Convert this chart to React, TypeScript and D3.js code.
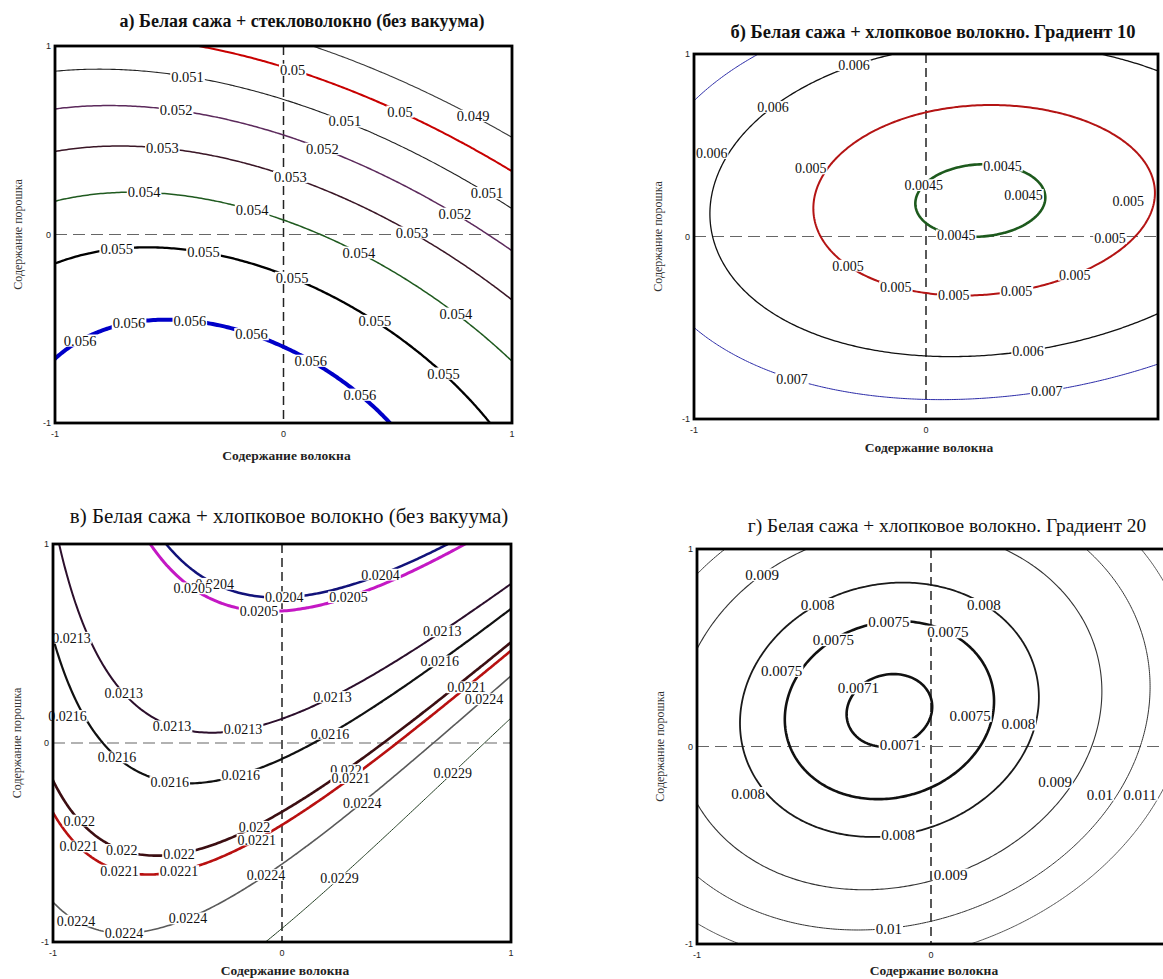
import React from 'react';
import * as d3 from 'd3';

type Sample = [number, number, number]; // fibre, powder, level
type Label = [number, number, number]; // level, fibre, powder

// ---------------- Panel а ----------------
const titleA = 'а) Белая сажа + стекловолокно (без вакуума)';
const levelsA = [0.049, 0.05, 0.051, 0.052, 0.053, 0.054, 0.055, 0.056];
const samplesA: Sample[] = [
  [-1, -0.666, 0.056], [-0.872, -0.546, 0.056], [-0.546, -0.464, 0.056], [0, -0.59, 0.056], [0.344, -0.842, 0.056], [0.476, -1, 0.056],
  [-1, -0.138, 0.055], [-0.62, -0.077, 0.055], [0, -0.203, 0.055], [0.381, -0.484, 0.055], [0.735, -0.779, 0.055], [0.89, -1, 0.055],
  [-1, 0.184, 0.054], [-0.69, 0.22, 0.054], [0, 0.084, 0.054], [0.234, 0, 0.054], [0.794, -0.475, 0.054], [1, -0.67, 0.054],
  [-1, 0.438, 0.053], [-0.73, 0.46, 0.053], [0, 0.305, 0.053], [0.56, 0, 0.053], [1, -0.32, 0.053],
  [-1, 0.667, 0.052], [0, 0.537, 0.052], [0.234, 0.43, 0.052], [0.742, 0.089, 0.052], [1, -0.056, 0.052],
  [-1, 0.862, 0.051], [0, 0.72, 0.051], [0.322, 0.573, 0.051], [0.885, 0.2, 0.051], [1, 0.146, 0.051],
  [-0.4, 1, 0.05], [-0.025, 0.908, 0.05], [0.469, 0.653, 0.05], [1, 0.37, 0.05],
  [0.17, 1, 0.049], [0.826, 0.61, 0.049], [1, 0.5, 0.049],
];
const labelsA: Label[] = [
  [0.05, 0.035, 0.863], [0.05, 0.506, 0.639], [0.049, 0.826, 0.61],
  [0.051, -0.422, 0.818], [0.051, 0.263, 0.582], [0.051, 0.875, 0.188],
  [0.052, -0.474, 0.635], [0.052, 0.16, 0.438], [0.052, 0.742, 0.089],
  [0.053, -0.533, 0.444], [0.053, 0.027, 0.277], [0.053, 0.55, -0.018],
  [0.054, -0.614, 0.209], [0.054, -0.142, 0.111], [0.054, 0.315, -0.12], [0.054, 0.727, -0.462],
  [0.055, -0.732, -0.077], [0.055, -0.349, -0.117], [0.055, 0.027, -0.251], [0.055, 0.381, -0.484], [0.055, 0.661, -0.785],
  [0.056, -0.904, -0.528], [0.056, -0.676, -0.462], [0.056, -0.408, -0.475], [0.056, -0.147, -0.555], [0.056, 0.101, -0.699], [0.056, 0.307, -0.886],
];
const colorsA = ['#3a3a3a', '#c80000', '#222222', '#5c2a5c', '#3a1626', '#1f5a1f', '#000000', '#0000c8'];
const widthsA = [1.1, 2, 1.1, 1.5, 1.5, 1.5, 2.3, 4];

// ---------------- Panel б ----------------
const titleB = 'б) Белая сажа + хлопковое волокно. Градиент 10';
const levelsB = [0.0045, 0.005, 0.006, 0.007];
const samplesB: Sample[] = [
  [-0.04, 0.18, 0.0045], [0.516, 0.22, 0.0045], [0.2, 0.4, 0.0045], [0.27, 0.0, 0.0045], [0.418, 0.357, 0.0045],
  [-0.477, 0.165, 0.005], [0.953, 0.19, 0.005], [0.289, 0.72, 0.005], [0.131, -0.325, 0.005], [0, 0.677, 0.005],
  [0.92, -0.09, 0.005], [-0.286, -0.209, 0.005], [0.705, -0.155, 0.005], [-0.134, -0.285, 0.005], [0.391, -0.27, 0.005],
  [-0.932, 0.13, 0.006], [-0.14, 1, 0.006], [0.78, 1, 0.006], [-0.615, 0.753, 0.006], [-0.852, 0.479, 0.006],
  [0.06, -0.657, 0.006], [1, 0.905, 0.006], [1, -0.41, 0.006], [0.49, -0.62, 0.006],
  [-0.7, 1, 0.007], [-1, 0.75, 0.007], [-1, -0.483, 0.007], [0.06, -0.894, 0.007], [1, -0.69, 0.007],
  [-0.588, -0.785, 0.007], [0.62, -0.827, 0.007],
];
const labelsB: Label[] = [
  [0.006, -0.32, 0.963], [0.006, -0.687, 0.743], [0.006, -0.924, 0.457],
  [0.005, -0.497, 0.373], [0.0045, -0.052, 0.336], [0.0045, 0.326, 0.378], [0.0045, 0.42, 0.228], [0.0045, 0.132, 0.007],
  [0.005, 0.872, 0.195], [0.005, 0.793, -0.009], [0.005, 0.628, -0.161], [0.005, -0.349, -0.188],
  [0.005, -0.134, -0.285], [0.005, 0.122, -0.32], [0.005, 0.391, -0.27],
  [0.006, 0.441, -0.614], [0.007, -0.576, -0.787], [0.007, 0.52, -0.837],
];
const colorsB = ['#1d5a1d', '#b41414', '#111111', '#2b2ba8'];
const widthsB = [2.6, 2, 1.3, 1];

// ---------------- Panel в ----------------
const titleC = 'в) Белая сажа + хлопковое волокно (без вакуума)';
const levelsC = [0.0204, 0.0205, 0.0213, 0.0216, 0.022, 0.0221, 0.0224, 0.0229];
const samplesC: Sample[] = [
  [-0.495, 1, 0.0204], [-0.082, 0.733, 0.0204], [0.507, 0.873, 0.0204], [0.721, 1, 0.0204],
  [-0.568, 1, 0.0205], [-0.008, 0.653, 0.0205], [0.39, 0.777, 0.0205], [0.795, 1, 0.0205],
  [-0.988, 1, 0.0213], [-0.834, 0.526, 0.0213], [-0.642, 0.204, 0.0213], [-0.288, 0.051, 0.0213],
  [-0.008, 0.11, 0.0213], [0.242, 0.22, 0.0213], [0.773, 0.636, 0.0213], [1, 0.797, 0.0213],
  [-1, 0.492, 0.0216], [-0.863, 0.136, 0.0216], [-0.73, -0.068, 0.0216], [-0.406, -0.195, 0.0216],
  [-0.097, -0.127, 0.0216], [0.316, 0.102, 0.0216], [0.758, 0.458, 0.0216], [1, 0.67, 0.0216],
  [-1, -0.169, 0.022], [-0.789, -0.492, 0.022], [-0.539, -0.56, 0.022], [-0.318, -0.526, 0.022],
  [-0.008, -0.365, 0.022], [0.331, -0.1, 0.022], [1, 0.492, 0.022],
  [-1, -0.322, 0.0221], [-0.819, -0.611, 0.0221], [-0.539, -0.658, 0.0221], [-0.273, -0.576, 0.0221],
  [-0.023, -0.449, 0.0221], [0.345, -0.136, 0.0221], [1, 0.458, 0.0221],
  [-1, -0.797, 0.0224], [-0.819, -0.933, 0.0224], [-0.642, -0.958, 0.0224], [-0.421, -0.856, 0.0224],
  [-0.023, -0.619, 0.0224], [0.316, -0.254, 0.0224], [0.758, 0.204, 0.0224], [1, 0.322, 0.0224],
  [-0.067, -1, 0.0229], [0.287, -0.678, 0.0229], [0.802, -0.119, 0.0229], [1, 0.11, 0.0229],
];
const labelsC: Label[] = [
  [0.0204, 0.419, 0.877], [0.0205, 0.279, 0.763], [0.0204, 0.007, 0.733], [0.0205, -0.1, 0.661],
  [0.0204, -0.303, 0.777], [0.0205, -0.413, 0.738],
  [0.0213, -0.919, 0.529], [0.0213, -0.73, 0.212], [0.0213, -0.477, 0.076], [0.0213, -0.17, 0.085],
  [0.0213, 0.208, 0.263], [0.0213, 0.677, 0.607],
  [0.0216, -0.937, 0.136], [0.0216, -0.745, -0.105], [0.0216, -0.495, -0.195], [0.0216, -0.182, -0.132],
  [0.0216, 0.195, 0.076], [0.0216, 0.662, 0.449],
  [0.022, -0.915, -0.424], [0.022, -0.701, -0.534], [0.022, -0.45, -0.543], [0.022, -0.134, -0.39], [0.022, 0.257, -0.101],
  [0.0221, 0.766, 0.331], [0.0221, -0.922, -0.56], [0.0221, -0.708, -0.644], [0.0221, -0.45, -0.619],
  [0.0221, -0.126, -0.449], [0.0221, 0.279, -0.136],
  [0.0224, 0.847, 0.268], [0.0224, 0.324, -0.263], [0.0224, -0.089, -0.628], [0.0224, -0.421, -0.856],
  [0.0224, -0.694, -0.95], [0.0224, -0.915, -0.929],
  [0.0229, 0.707, -0.105], [0.0229, 0.22, -0.641],
];
const colorsC = ['#12127a', '#c418c4', '#2c0f2c', '#111111', '#3c0e12', '#b81010', '#5a5a5a', '#203c20'];
const widthsC = [2.5, 3, 2, 2.2, 2.6, 2.6, 1.6, 1];

// ---------------- Panel г ----------------
const titleD = 'г) Белая сажа + хлопковое волокно. Градиент 20';
const levelsD = [0.0071, 0.0075, 0.008, 0.009, 0.01, 0.011];
const samplesD: Sample[] = [
  [-0.358, 0.18, 0.0071], [0.01, 0.18, 0.0071], [-0.174, 0.359, 0.0071], [-0.174, -0.005, 0.0071],
  [-0.624, 0.185, 0.0075], [0.274, 0.185, 0.0075], [-0.175, 0.638, 0.0075], [-0.175, -0.267, 0.0075],
  [-0.809, 0.18, 0.008], [0.452, 0.18, 0.008], [-0.179, 0.819, 0.008], [-0.179, -0.457, 0.008],
  [0.302, 1, 0.009], [0.729, 0.272, 0.009], [0.687, 0, 0.009], [-1, 0.469, 0.009], [-1, -0.3, 0.009],
  [0.074, -0.623, 0.009], [-0.731, 0.883, 0.009],
  [0.665, 1, 0.01], [0.94, 0.272, 0.01], [0.9, 0, 0.01], [0.729, -0.294, 0.01], [0.466, -0.675, 0.01],
  [-1, -0.657, 0.01], [-0.182, -0.91, 0.01],
  [0.9, 1, 0.011], [-1, -0.893, 0.011], [-0.83, -1, 0.011], [0.466, -0.861, 0.011],
];
const labelsD: Label[] = [
  [0.009, -0.731, 0.883], [0.008, -0.496, 0.739], [0.008, 0.202, 0.68], [0.0075, -0.182, 0.621],
  [0.0075, -0.432, 0.57], [0.0075, 0.053, 0.536], [0.0075, -0.638, 0.384], [0.0071, -0.339, 0.333],
  [0.0071, -0.147, 0.071], [0.0075, 0.167, 0.156], [0.008, 0.373, 0.113], [0.008, -0.781, -0.237],
  [0.009, 0.53, -0.179], [0.01, 0.722, -0.242], [0.011, 0.893, -0.242], [0.008, -0.14, -0.42],
  [0.009, 0.074, -0.623], [0.01, -0.182, -0.91],
];
const colorsD = ['#111111', '#111111', '#1a1a1a', '#333333', '#333333', '#444444'];
const widthsD = [2.6, 2.6, 1.8, 1.1, 1, 0.9];

// ---------------- shared ----------------
const tickValues = [-1, 0, 1];
const xAxisTitle = 'Содержание волокна';
const yAxisTitle = 'Содержание порошка';

const SERIF = "'Liberation Serif', 'Times New Roman', serif";
const SANS = "'Liberation Sans', Arial, sans-serif";

function solve(A: number[][], b: number[]): number[] {
  const n = b.length;
  const M = A.map((r, i) => [...r, b[i]]);
  for (let c = 0; c < n; c++) {
    let p = c;
    for (let r = c + 1; r < n; r++) if (Math.abs(M[r][c]) > Math.abs(M[p][c])) p = r;
    const t = M[c]; M[c] = M[p]; M[p] = t;
    for (let r = 0; r < n; r++) {
      if (r === c) continue;
      const f = M[r][c] / M[c][c];
      for (let k = c; k <= n; k++) M[r][k] -= f * M[c][k];
    }
  }
  return M.map((r, i) => r[n] / r[i]);
}

const cubic = (x: number, y: number) => [1, x, y, x * x, y * y, x * y, x * x * x, y * y * y, x * x * y, x * y * y];

// Polynomial response surface fitted to the points read on the contours,
// re-weighted so that the fit approximates geometric distance to the lines.
function fitSurface(samples: Sample[], basis: (x: number, y: number) => number[]) {
  const m = basis(0, 0).length;
  let w = samples.map(() => 1);
  let c: number[] = new Array(m).fill(0);
  const evalF = (cc: number[], x: number, y: number) => basis(x, y).reduce((s, v, i) => s + v * cc[i], 0);
  for (let it = 0; it < 12; it++) {
    const A = Array.from({ length: m }, () => new Array(m).fill(0));
    const b = new Array(m).fill(0);
    samples.forEach(([x, y, v], s) => {
      const p = basis(x, y);
      for (let i = 0; i < m; i++) {
        b[i] += w[s] * p[i] * v;
        for (let j = 0; j < m; j++) A[i][j] += w[s] * p[i] * p[j];
      }
    });
    c = solve(A, b);
    const h = 1e-4;
    const g2 = samples.map(([x, y]) => {
      const gx = (evalF(c, x + h, y) - evalF(c, x - h, y)) / (2 * h);
      const gy = (evalF(c, x, y + h) - evalF(c, x, y - h)) / (2 * h);
      return gx * gx + gy * gy;
    });
    const mean = d3.mean(g2) || 1;
    w = g2.map((g) => 1 / Math.max(g, mean * 0.05));
  }
  return (x: number, y: number) => evalF(c, x, y);
}

interface Frame { left: number; right: number; top: number; bottom: number }
interface PanelCfg {
  id: string;
  frame: Frame;
  levels: number[];
  samples: Sample[];
  labels: Label[];
  colors: string[];
  widths: number[];
  title: string;
  titleX: number;
  titleY: number;
  titleSize: number;
  titleWeight: string | number;
  labelSize: number;
  xTitleY: number;
  yTitleX: number;
}

function Panel({ cfg }: { cfg: PanelCfg }) {
  const { frame, levels, samples, labels, colors, widths, id, labelSize } = cfg;
  const xs = d3.scaleLinear().domain([-1, 1]).range([frame.left, frame.right]);
  const ys = d3.scaleLinear().domain([-1, 1]).range([frame.bottom, frame.top]);
  const f = fitSurface(samples, cubic);
  const n = 221;
  const lo = -1.1;
  const step = 2.2 / (n - 1);
  const values: number[] = new Array(n * n);
  for (let j = 0; j < n; j++) for (let i = 0; i < n; i++) values[j * n + i] = f(lo + i * step, -lo - j * step);
  const contours = d3.contours().size([n, n]).thresholds(levels)(values);
  const toPx = (p: number[]): [number, number] => [xs(lo + (p[0] - 0.5) * step), ys(-lo - (p[1] - 0.5) * step)];
  const line = d3.line();
  const paths = contours.map((c) => {
    const rings: [number, number][][] = [];
    (c.coordinates as number[][][][]).forEach((poly) => poly.forEach((ring) => rings.push(ring.map(toPx))));
    return { value: c.value, rings, d: rings.map((r) => line(r) + 'Z').join('') };
  });

  const labs = labels.map(([lv, x, y]) => {
    const k = levels.indexOf(lv);
    let px = xs(x), py = ys(y);
    let best = Infinity, bx = px, by = py;
    if (k >= 0 && paths[k]) {
      paths[k].rings.forEach((r) => r.forEach(([qx, qy]) => {
        if (qx < frame.left || qx > frame.right || qy < frame.top || qy > frame.bottom) return;
        const d = (qx - px) ** 2 + (qy - py) ** 2;
        if (d < best) { best = d; bx = qx; by = qy; }
      }));
    }
    if (best < 14 * 14) { px = bx; py = by; }
    const text = String(lv);
    const digits = text.replace('.', '').length;
    const w = labelSize * (0.5 * digits + 0.25) + 2;
    return { text, px, py, w };
  });

  const cx = xs(0), cy = ys(0);
  const midX = (frame.left + frame.right) / 2;
  const midY = (frame.top + frame.bottom) / 2;

  return (
    <g>
      <defs>
        <clipPath id={`clip-${id}`}>
          <rect x={frame.left} y={frame.top} width={frame.right - frame.left} height={frame.bottom - frame.top} />
        </clipPath>
      </defs>
      <text x={cfg.titleX} y={cfg.titleY} textAnchor="middle" fontFamily={SERIF} fontSize={cfg.titleSize} fontWeight={cfg.titleWeight} fill="#111">{cfg.title}</text>
      <line x1={cx} x2={cx} y1={frame.top} y2={frame.bottom} stroke="#222" strokeWidth={1.5} strokeDasharray="9,5" />
      <line x1={frame.left} x2={frame.right} y1={cy} y2={cy} stroke="#666" strokeWidth={1.2} strokeDasharray="12,6" />
      <g clipPath={`url(#clip-${id})`}>
        {paths.map((p, k) => (
          <path key={k} d={p.d} fill="none" stroke={colors[k]} strokeWidth={widths[k]} strokeLinejoin="round" strokeLinecap="round" />
        ))}
      </g>
      <g>
        {labs.map((l, i) => (
          <g key={i}>
            <rect x={l.px - l.w / 2} y={l.py - labelSize * 0.42} width={l.w} height={labelSize * 0.84} fill="#fff" />
            <text x={l.px} y={l.py} dy="0.35em" textAnchor="middle" fontFamily={SERIF} fontSize={labelSize} fill="#111">{l.text}</text>
          </g>
        ))}
      </g>
      <rect x={frame.left} y={frame.top} width={frame.right - frame.left} height={frame.bottom - frame.top} fill="none" stroke="#000" strokeWidth={2.8} />
      {tickValues.map((t) => (
        <text key={`y${t}`} x={frame.left - 4} y={ys(t)} dy="0.35em" textAnchor="end" fontFamily={SANS} fontSize={9} fill="#222">{String(t)}</text>
      ))}
      {tickValues.filter((t) => xs(t) < 1158).map((t) => (
        <text key={`x${t}`} x={xs(t)} y={frame.bottom + 14} textAnchor="middle" fontFamily={SANS} fontSize={9} fill="#222">{String(t)}</text>
      ))}
      <text x={midX + 3} y={cfg.xTitleY} textAnchor="middle" fontFamily={SERIF} fontSize={13.5} fontWeight={700} fill="#222">{xAxisTitle}</text>
      <text transform={`translate(${cfg.yTitleX},${midY}) rotate(-90)`} textAnchor="middle" fontFamily={SERIF} fontSize={12} fill="#333">{yAxisTitle}</text>
    </g>
  );
}

const panels: PanelCfg[] = [
  {
    id: 'a', frame: { left: 55, right: 512, top: 46, bottom: 423 },
    levels: levelsA, samples: samplesA, labels: labelsA, colors: colorsA, widths: widthsA,
    title: titleA, titleX: 302, titleY: 27, titleSize: 18, titleWeight: 700, labelSize: 14.5,
    xTitleY: 460, yTitleX: 22,
  },
  {
    id: 'b', frame: { left: 694, right: 1158, top: 54, bottom: 419 },
    levels: levelsB, samples: samplesB, labels: labelsB, colors: colorsB, widths: widthsB,
    title: titleB, titleX: 933, titleY: 38, titleSize: 18.5, titleWeight: 700, labelSize: 14,
    xTitleY: 452, yTitleX: 662,
  },
  {
    id: 'c', frame: { left: 53, right: 511, top: 544, bottom: 942 },
    levels: levelsC, samples: samplesC, labels: labelsC, colors: colorsC, widths: widthsC,
    title: titleC, titleX: 289, titleY: 523, titleSize: 21, titleWeight: 400, labelSize: 14,
    xTitleY: 975, yTitleX: 21,
  },
  {
    id: 'd', frame: { left: 697, right: 1165, top: 549, bottom: 944 },
    levels: levelsD, samples: samplesD, labels: labelsD, colors: colorsD, widths: widthsD,
    title: titleD, titleX: 947, titleY: 532, titleSize: 19.4, titleWeight: 400, labelSize: 15,
    xTitleY: 975, yTitleX: 664,
  },
];

export default function App() {
  return (
    <svg width={1163} height={979} style={{ position: 'absolute', left: 0, top: 0, background: '#fff' }}>
      <rect x={0} y={0} width={1163} height={979} fill="#fff" />
      {panels.map((p) => <Panel key={p.id} cfg={p} />)}
    </svg>
  );
}
